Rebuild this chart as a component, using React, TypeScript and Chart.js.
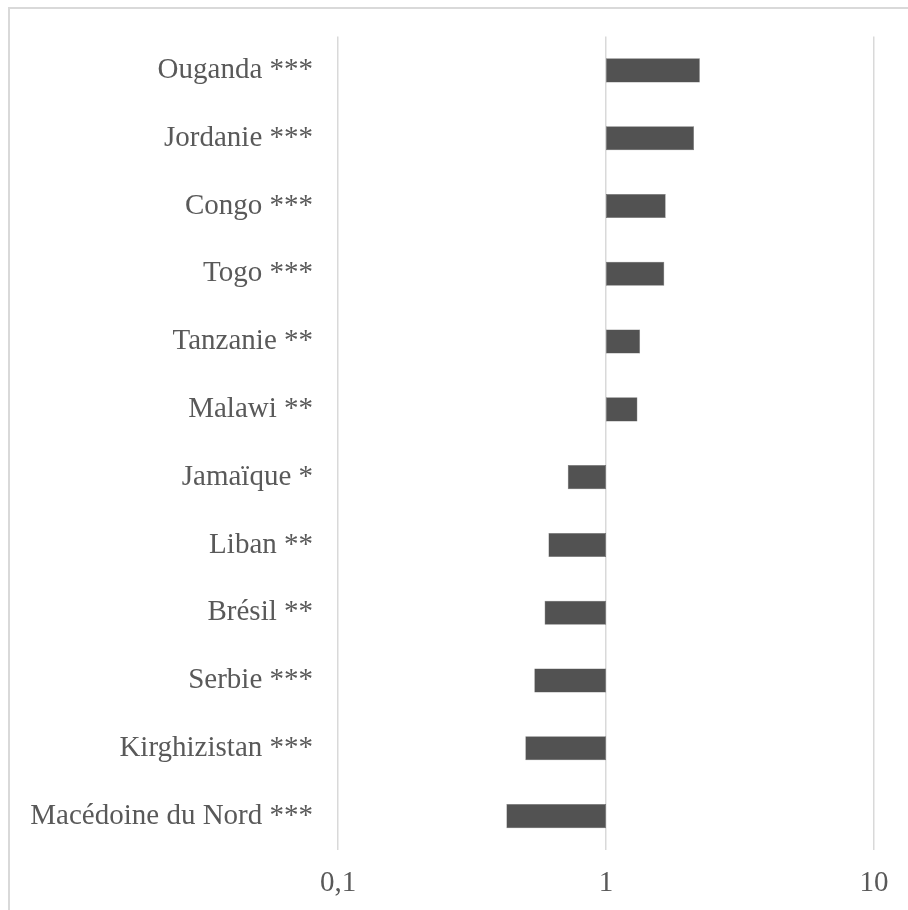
import React, { useEffect, useRef } from "react";
import { Chart, registerables } from "chart.js";

Chart.register(...registerables);

const categories = [
  "Ouganda ***",
  "Jordanie ***",
  "Congo ***",
  "Togo ***",
  "Tanzanie **",
  "Malawi **",
  "Jamaïque *",
  "Liban **",
  "Brésil **",
  "Serbie ***",
  "Kirghizistan ***",
  "Macédoine du Nord ***",
];

const ratios = [2.24, 2.13, 1.67, 1.65, 1.34, 1.31, 0.72, 0.61, 0.59, 0.54, 0.5, 0.425];

const baseline = 1;
const tickValues = [0.1, 1, 10];
const tickLabels = ["0,1", "1", "10"];

const FONT = "'Liberation Serif', 'Times New Roman', serif";
const TEXT = "#595959";

export default function App() {
  const ref = useRef<HTMLCanvasElement | null>(null);

  useEffect(() => {
    if (!ref.current) return;
    const chart = new Chart(ref.current, {
      type: "bar",
      data: {
        labels: categories,
        datasets: [
          {
            data: ratios.map((v) => [baseline, v]) as any,
            backgroundColor: "#525252",
            borderColor: "#6a6a6a",
            borderWidth: 0.5,
            borderSkipped: false,
            categoryPercentage: 1,
            barPercentage: 0.355,
          },
        ],
      },
      options: {
        indexAxis: "y",
        responsive: false,
        animation: false,
        layout: { padding: { left: 0, top: 36.5, right: 34, bottom: 0 } },
        plugins: {
          legend: { display: false },
          tooltip: { enabled: false },
        },
        scales: {
          x: {
            type: "logarithmic",
            min: 0.1,
            max: 10,
            afterBuildTicks: (scale: any) => {
              scale.ticks = tickValues.map((v) => ({ value: v }));
            },
            afterFit: (scale: any) => {
              scale.height = 60;
              scale.paddingLeft = 0;
              scale.paddingRight = 0;
            },
            ticks: {
              color: TEXT,
              font: { family: FONT, size: 29 },
              padding: 16,
              maxRotation: 0,
              autoSkip: false,
              callback: (value: any) => {
                const i = tickValues.findIndex((t) => Math.abs(t - Number(value)) < 1e-9);
                return i >= 0 ? tickLabels[i] : "";
              },
            },
            grid: {
              color: "#d9d9d9",
              lineWidth: 1.5,
              drawTicks: false,
            },
            border: { display: false },
          },
          y: {
            afterFit: (scale: any) => {
              scale.width = 338;
              scale.paddingTop = 0;
              scale.paddingBottom = 0;
            },
            ticks: {
              color: TEXT,
              font: { family: FONT, size: 29 },
              padding: 25,
              autoSkip: false,
            },
            grid: { display: false, drawTicks: false },
            border: { display: false },
          },
        },
      },
    });
    return () => chart.destroy();
  }, []);

  return (
    <div
      style={{
        position: "absolute",
        left: 0,
        top: 0,
        width: 908,
        height: 910,
        overflow: "hidden",
        background: "#ffffff",
      }}
    >
      <div
        style={{
          position: "absolute",
          left: 8,
          top: 7,
          width: 960,
          height: 960,
          borderTop: "2px solid #d9d9d9",
          borderLeft: "2px solid #d9d9d9",
          boxSizing: "border-box",
        }}
      />
      <canvas
        ref={ref}
        width={908}
        height={910}
        style={{ position: "absolute", left: 0, top: 0, width: 908, height: 910 }}
      />
    </div>
  );
}
